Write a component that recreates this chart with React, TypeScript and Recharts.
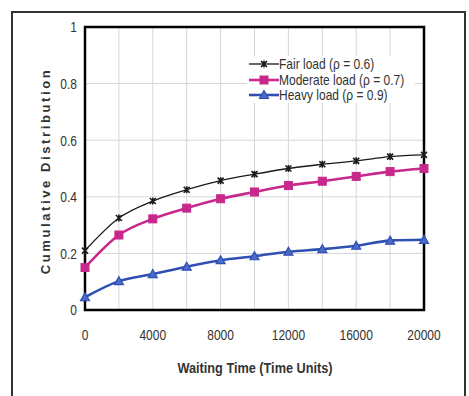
import React from "react";
import {
  LineChart,
  Line,
  XAxis,
  YAxis,
  CartesianGrid,
  ReferenceArea,
} from "recharts";

// waiting time samples (time units)
const waitingTimes = [0, 2000, 4000, 6000, 8000, 10000, 12000, 14000, 16000, 18000, 20000];

// cumulative distribution
const fairLoad = [0.21, 0.325, 0.385, 0.425, 0.457, 0.48, 0.5, 0.515, 0.527, 0.542, 0.548];
const moderateLoad = [0.15, 0.265, 0.322, 0.36, 0.393, 0.417, 0.44, 0.455, 0.472, 0.489, 0.5];
const heavyLoad = [0.045, 0.102, 0.127, 0.153, 0.176, 0.19, 0.206, 0.215, 0.227, 0.245, 0.248];

const xTicks = [0, 2000, 4000, 6000, 8000, 10000, 12000, 14000, 16000, 18000, 20000];
const yTicks = [0, 0.2, 0.4, 0.6, 0.8, 1];

const seriesInfo = [
  { key: "fair", label: "Fair load (\u03c1 = 0.6)", color: "#1a1a1a", width: 1.3, marker: "star" },
  { key: "moderate", label: "Moderate load (\u03c1 = 0.7)", color: "#c8288c", width: 2.6, marker: "square" },
  { key: "heavy", label: "Heavy load (\u03c1 = 0.9)", color: "#2f50b2", width: 2.6, marker: "triangle" },
];

const data = waitingTimes.map((t, i) => ({
  t,
  fair: fairLoad[i],
  moderate: moderateLoad[i],
  heavy: heavyLoad[i],
}));

const FONT = "'Liberation Sans', Arial, sans-serif";
const SQUEEZE = 0.8; // the original uses a condensed face

const Marker = ({ kind, cx, cy, color }: { kind: string; cx: number; cy: number; color: string }) => {
  if (kind === "square") {
    return <rect x={cx - 4} y={cy - 4} width={8} height={8} fill={color} stroke={color} />;
  }
  if (kind === "triangle") {
    return (
      <path
        d={`M${cx},${cy - 4.5} L${cx + 4.5},${cy + 3.5} L${cx - 4.5},${cy + 3.5} Z`}
        fill="#4a6cc8"
        stroke={color}
        strokeWidth={1.2}
      />
    );
  }
  return (
    <path
      d={`M${cx - 3},${cy - 3} L${cx + 3},${cy + 3} M${cx - 3},${cy + 3} L${cx + 3},${cy - 3} M${cx},${cy - 3.5} L${cx},${cy + 3.5}`}
      stroke={color}
      strokeWidth={1.6}
    />
  );
};

const makeDot = (kind: string, color: string) => (props: any) => {
  const { cx, cy, index } = props;
  if (cx == null || cy == null) return <g key={`d-${kind}-${index}`} />;
  return (
    <g key={`d-${kind}-${index}`}>
      <Marker kind={kind} cx={cx} cy={cy} color={color} />
    </g>
  );
};

const XTick = (props: any) => {
  const { x, y, payload } = props;
  const v = payload.value as number;
  if (v % 4000 !== 0) return <g />;
  return (
    <g transform={`translate(${x},${y})`}>
      <text transform={`scale(${SQUEEZE},1)`} textAnchor="middle" dy="0.71em" fontSize={15} fontFamily={FONT} fill="#333">
        {v}
      </text>
    </g>
  );
};

const YTick = (props: any) => {
  const { x, y, payload } = props;
  return (
    <g transform={`translate(${x},${y})`}>
      <text transform={`scale(${SQUEEZE},1)`} textAnchor="end" dy="0.355em" fontSize={15} fontFamily={FONT} fill="#333">
        {payload.value}
      </text>
    </g>
  );
};

const App = () => {
  return (
    <div style={{ position: "absolute", left: 0, top: 0, width: 469, height: 396, background: "#fff", overflow: "hidden" }}>
      {/* outer figure frame */}
      <div
        style={{
          position: "absolute",
          left: 11,
          top: 11,
          width: 451,
          height: 400,
          borderLeft: "2px solid #333",
          borderTop: "2px solid #333",
          borderRight: "2px solid #333",
        }}
      />
      <LineChart
        width={469}
        height={396}
        data={data}
        margin={{ top: 27, right: 45, bottom: 0, left: 0 }}
        style={{ position: "absolute", left: 0, top: 0 }}
      >
        <CartesianGrid stroke="#d6d6d6" strokeWidth={1} />
        <XAxis
          dataKey="t"
          type="number"
          domain={[0, 20000]}
          ticks={xTicks}
          interval={0}
          height={86}
          tick={<XTick />}
          tickLine={false}
          tickSize={0}
          tickMargin={19}
          axisLine={false}
        />
        <YAxis
          type="number"
          domain={[0, 1]}
          ticks={yTicks}
          interval={0}
          width={85}
          tick={<YTick />}
          tickLine={false}
          tickSize={0}
          tickMargin={8}
          axisLine={false}
        />
        <ReferenceArea
          x1={0}
          x2={20000}
          y1={0}
          y2={1}
          fill="none"
          fillOpacity={0}
          stroke="#000"
          strokeWidth={2.5}
        />
        {seriesInfo.map((s) => (
          <Line
            key={s.key}
            dataKey={s.key}
            type="monotone"
            stroke={s.color}
            strokeWidth={s.width}
            dot={makeDot(s.marker, s.color)}
            activeDot={false}
            isAnimationActive={false}
          />
        ))}
      </LineChart>

      {/* legend */}
      <div
        style={{
          position: "absolute",
          left: 247,
          top: 56,
          width: 168,
          height: 47,
          background: "#fff",
        }}
      >
        {seriesInfo.map((s, i) => (
          <div
            key={s.key}
            style={{
              position: "absolute",
              left: 0,
              top: i * 15.5,
              height: 16,
              display: "flex",
              alignItems: "center",
              whiteSpace: "nowrap",
            }}
          >
            <svg width={32} height={16} style={{ display: "block" }}>
              <line x1={2} y1={8} x2={32} y2={8} stroke={s.color} strokeWidth={s.width} />
              <Marker kind={s.marker} cx={17} cy={8} color={s.color} />
            </svg>
            <span
              style={{
                display: "inline-block",
                fontFamily: FONT,
                fontSize: 15,
                color: "#333",
                lineHeight: "16px",
                transform: `scaleX(${SQUEEZE})`,
                transformOrigin: "left center",
              }}
            >
              {s.label}
            </span>
          </div>
        ))}
      </div>

      {/* axis titles */}
      <div
        style={{
          position: "absolute",
          left: 45,
          top: 171,
          transform: "translate(-50%, -50%) rotate(-90deg)",
          whiteSpace: "nowrap",
          fontFamily: FONT,
          fontWeight: "bold",
          fontSize: 13,
          letterSpacing: 2.6,
          color: "#333",
        }}
      >
        Cumulative Distribution
      </div>
      <div
        style={{
          position: "absolute",
          left: 255,
          top: 368,
          transform: `translate(-50%, -50%) scaleX(${SQUEEZE + 0.02})`,
          whiteSpace: "nowrap",
          fontFamily: FONT,
          fontWeight: "bold",
          fontSize: 15.5,
          color: "#333",
        }}
      >
        Waiting Time (Time Units)
      </div>
    </div>
  );
};

export default App;
